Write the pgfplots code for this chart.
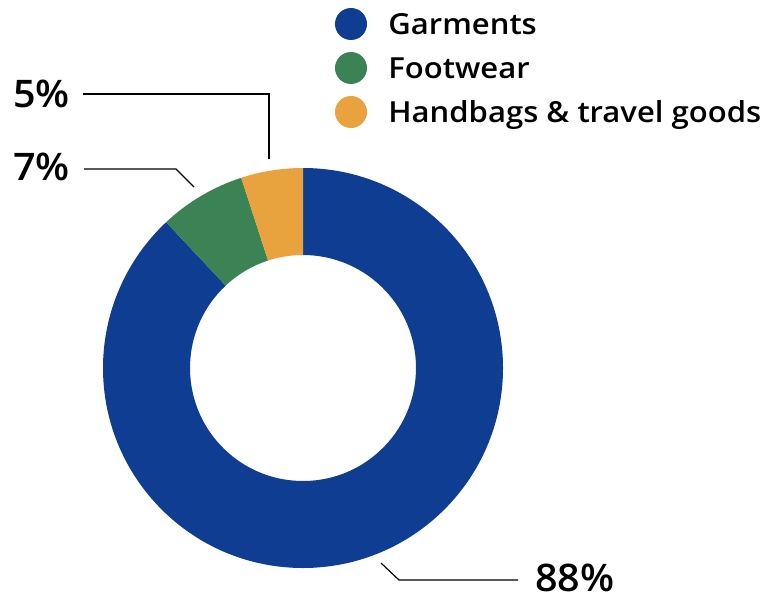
\documentclass[border=0pt]{standalone}
\usepackage{pgfplots}
\pgfplotsset{compat=1.18}
\usepackage{pgfplotstable}
\usepackage{fontspec}
\IfFontExistsTF{Open Sans Semibold}{\setmainfont{Open Sans Semibold}}{%
  \IfFontExistsTF{Open Sans SemiBold}{\setmainfont{Open Sans SemiBold}}{%
    \setmainfont{Open Sans}[FakeBold=0.8]}}

\definecolor{garm}{RGB}{14,61,145}
\definecolor{foot}{RGB}{59,130,84}
\definecolor{bags}{RGB}{232,163,62}

% shares in percent, drawn clockwise from 12 o'clock
\pgfplotstableread{
name share
Garments 88
Footwear 7
Handbags 5
}\shares

% ring radii (1px = 0.5pt)
\def\Ro{100pt}
\def\Ri{56.5pt}
\newcommand\donutwedge[3]{%
  \fill[#1] ([shift={(#2:\Ro)}]axis cs:303,368)
    arc[start angle=#2, end angle=#3, radius=\Ro]
    -- ([shift={(#3:\Ri)}]axis cs:303,368)
    arc[start angle=#3, end angle=#2, radius=\Ri] -- cycle;}

\newcommand\labfont{\fontsize{19}{21}\selectfont\addfontfeatures{FakeStretch=1.04}}
\newcommand\legfont{\fontsize{14.5}{16}\selectfont\addfontfeatures{FakeStretch=1.07}}

\begin{document}
\begin{tikzpicture}
\pgfplotstablegetelem{0}{share}\of\shares \let\sA\pgfplotsretval
\pgfplotstablegetelem{1}{share}\of\shares \let\sB\pgfplotsretval
\pgfplotstablegetelem{2}{share}\of\shares \let\sC\pgfplotsretval
\pgfmathsetmacro\aA{90-3.6*\sA}
\pgfmathsetmacro\aB{\aA-3.6*\sB}
\pgfmathsetmacro\aC{\aB-3.6*\sC}
\begin{axis}[
    x=0.5pt, y=0.5pt,
    xmin=0, xmax=780, ymin=0, ymax=599,
    y dir=reverse,
    hide axis,
    clip=false,
]
% keep the full canvas in the bounding box
\path (axis cs:0,0) rectangle (axis cs:780,599);

\donutwedge{garm}{90}{\aA}
\donutwedge{foot}{\aA}{\aB}
\donutwedge{bags}{\aB}{\aC}

% leader lines
\draw[line width=0.6pt] (axis cs:83,94) -- (axis cs:269,94) -- (axis cs:269,159);
\draw[line width=0.6pt] (axis cs:84,169) -- (axis cs:176,169) -- (axis cs:194,187);
\draw[line width=0.6pt] (axis cs:381,563) -- (axis cs:399,580) -- (axis cs:518,580);

% value labels
\node[anchor=base west, inner sep=0pt, font=\labfont] at (axis cs:13,107) {\sC\%};
\node[anchor=base west, inner sep=0pt, font=\labfont] at (axis cs:13,180) {\sB\%};
\node[anchor=base west, inner sep=0pt, font=\labfont] at (axis cs:535,591) {\sA\%};

% legend
\fill[garm] (axis cs:351,24) circle[radius=8pt];
\fill[foot] (axis cs:351,68) circle[radius=8pt];
\fill[bags] (axis cs:351,112) circle[radius=8pt];
\node[anchor=base west, inner sep=0pt, font=\legfont] at (axis cs:388,35) {Garments};
\node[anchor=base west, inner sep=0pt, font=\legfont] at (axis cs:388,79) {Footwear};
\node[anchor=base west, inner sep=0pt, font=\legfont] at (axis cs:388,122) {Handbags \& travel goods};
\end{axis}
\end{tikzpicture}
\end{document}
